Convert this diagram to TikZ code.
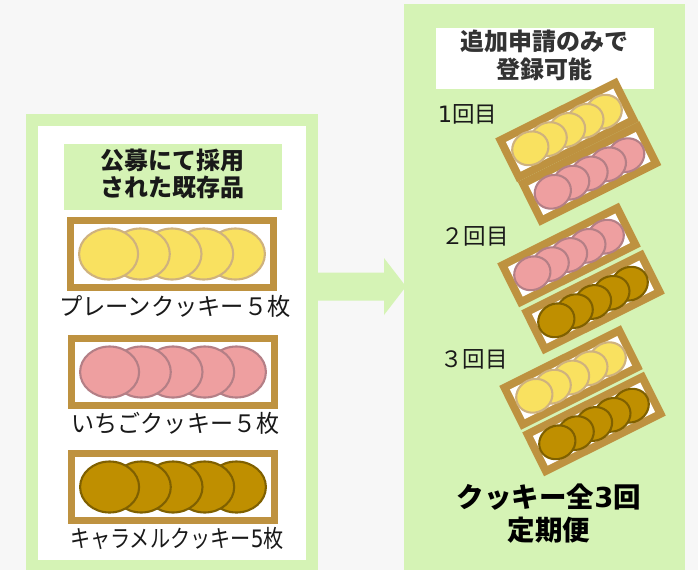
\documentclass[tikz,border=0pt]{standalone}
\usepackage{fontspec}
\setmainfont{Noto Sans CJK JP}
\newfontfamily\latinf{DejaVu Sans}
\definecolor{bgc}{HTML}{F7F7F7}
\definecolor{grn}{HTML}{D5F3B5}
\definecolor{trayc}{HTML}{BE9240}
\definecolor{yelf}{HTML}{F9E160}
\definecolor{yels}{HTML}{CFB27E}
\definecolor{pnkf}{HTML}{EE9FA0}
\definecolor{pnks}{HTML}{B47F86}
\definecolor{carf}{HTML}{BF8F00}
\definecolor{cars}{HTML}{7F6000}
\newcommand{\cookierow}[5]{%
  \foreach \k in {2,1,0,-1,-2}{
    \path[fill=#4,draw=#5,line width=2.1pt] (\k*#1,0) ellipse [x radius=#2,y radius=#3];
  }%
}
\tikzset{
  x=1pt,y=-1pt,
  panelbox/.style={fill=#1,draw=none},
  titletext/.style={font=\fontsize{24}{27.5}\selectfont\bfseries,align=center,text=black!90,inner sep=0pt},
  labeltext/.style={font=\fontsize{24}{28}\selectfont,inner sep=0pt,text=black!90},
  roundtext/.style={font=\fontsize{22.5}{26}\selectfont,inner sep=0pt,text=black!90},
  pics/smalltray/.style n args={2}{code={
    \path[fill=trayc] (-68,-24.5) rectangle (68,24.5);
    \path[fill=white] (-60,-16.5) rectangle (60,16.5);
    \cookierow{20.5}{18.5}{16.5}{#1}{#2}
  }},
  pics/bigtray/.style n args={2}{code={
    \path[fill=trayc] (-105,-37) rectangle (105,37);
    \path[fill=white] (-98,-30) rectangle (98,30);
    \cookierow{31.7}{29.5}{25.5}{#1}{#2}
  }}
}
\begin{document}
\begin{tikzpicture}
\useasboundingbox[fill=bgc] (0,0) rectangle (698,570);
% left panel
\path[panelbox=grn] (26,114) rectangle (318,570);
\path[panelbox=white] (38,126) rectangle (306,560);
\path[panelbox=grn] (64,144) rectangle (282,210);
\node[titletext] (lefttitle) at (172,174) {公募にて採用\\された既存品};
\pic at (172,254) {bigtray={yelf}{yels}};
\pic at (173,372) {bigtray={pnkf}{pnks}};
\pic at (173,487) {bigtray={carf}{cars}};
\node[labeltext] (plain) at (175,306) {\scalebox{0.97}[1]{プレーンクッキー５枚}};
\node[labeltext] (straw) at (175.5,423) {\scalebox{0.96}[1]{いちごクッキー５枚}};
\node[labeltext] (cara) at (177,538) {\scalebox{0.84}[1]{キャラメルクッキー{\latinf 5}枚}};
% right panel
\path[panelbox=grn] (404,4) rectangle (685,570);
\path[panelbox=grn] (318,272.5) -- (384,272.5) -- (384,258) -- (406,286.5) -- (384,315) -- (384,300.5) -- (318,300.5) -- cycle;
\path[panelbox=white] (436,28) rectangle (654,89);
\node[titletext,text=black!80] (righttitle) at (544,55.5) {追加申請のみで\\登録可能};
\node[roundtext] (r1) at (467.5,114) {{\latinf 1}回目};
\node[roundtext] (r2) at (475,236) {２回目};
\node[roundtext] (r3) at (474,359) {３回目};
\pic[rotate=26.5] at (567,130) {smalltray={yelf}{yels}};
\pic[rotate=26.5] at (589.5,173.5) {smalltray={pnkf}{pnks}};
\pic[rotate=26.5] at (569,255) {smalltray={pnkf}{pnks}};
\pic[rotate=26.5] at (593,302) {smalltray={carf}{cars}};
\pic[rotate=26.5] at (571,377.5) {smalltray={yelf}{yels}};
\pic[rotate=26.5] at (594,424) {smalltray={carf}{cars}};
\node[titletext,font=\fontsize{27.5}{33}\selectfont\bfseries,text=black] (bottom) at (549,513.5) {クッキー全{\latinf\bfseries 3}回\\定期便};
\end{tikzpicture}
\end{document}
